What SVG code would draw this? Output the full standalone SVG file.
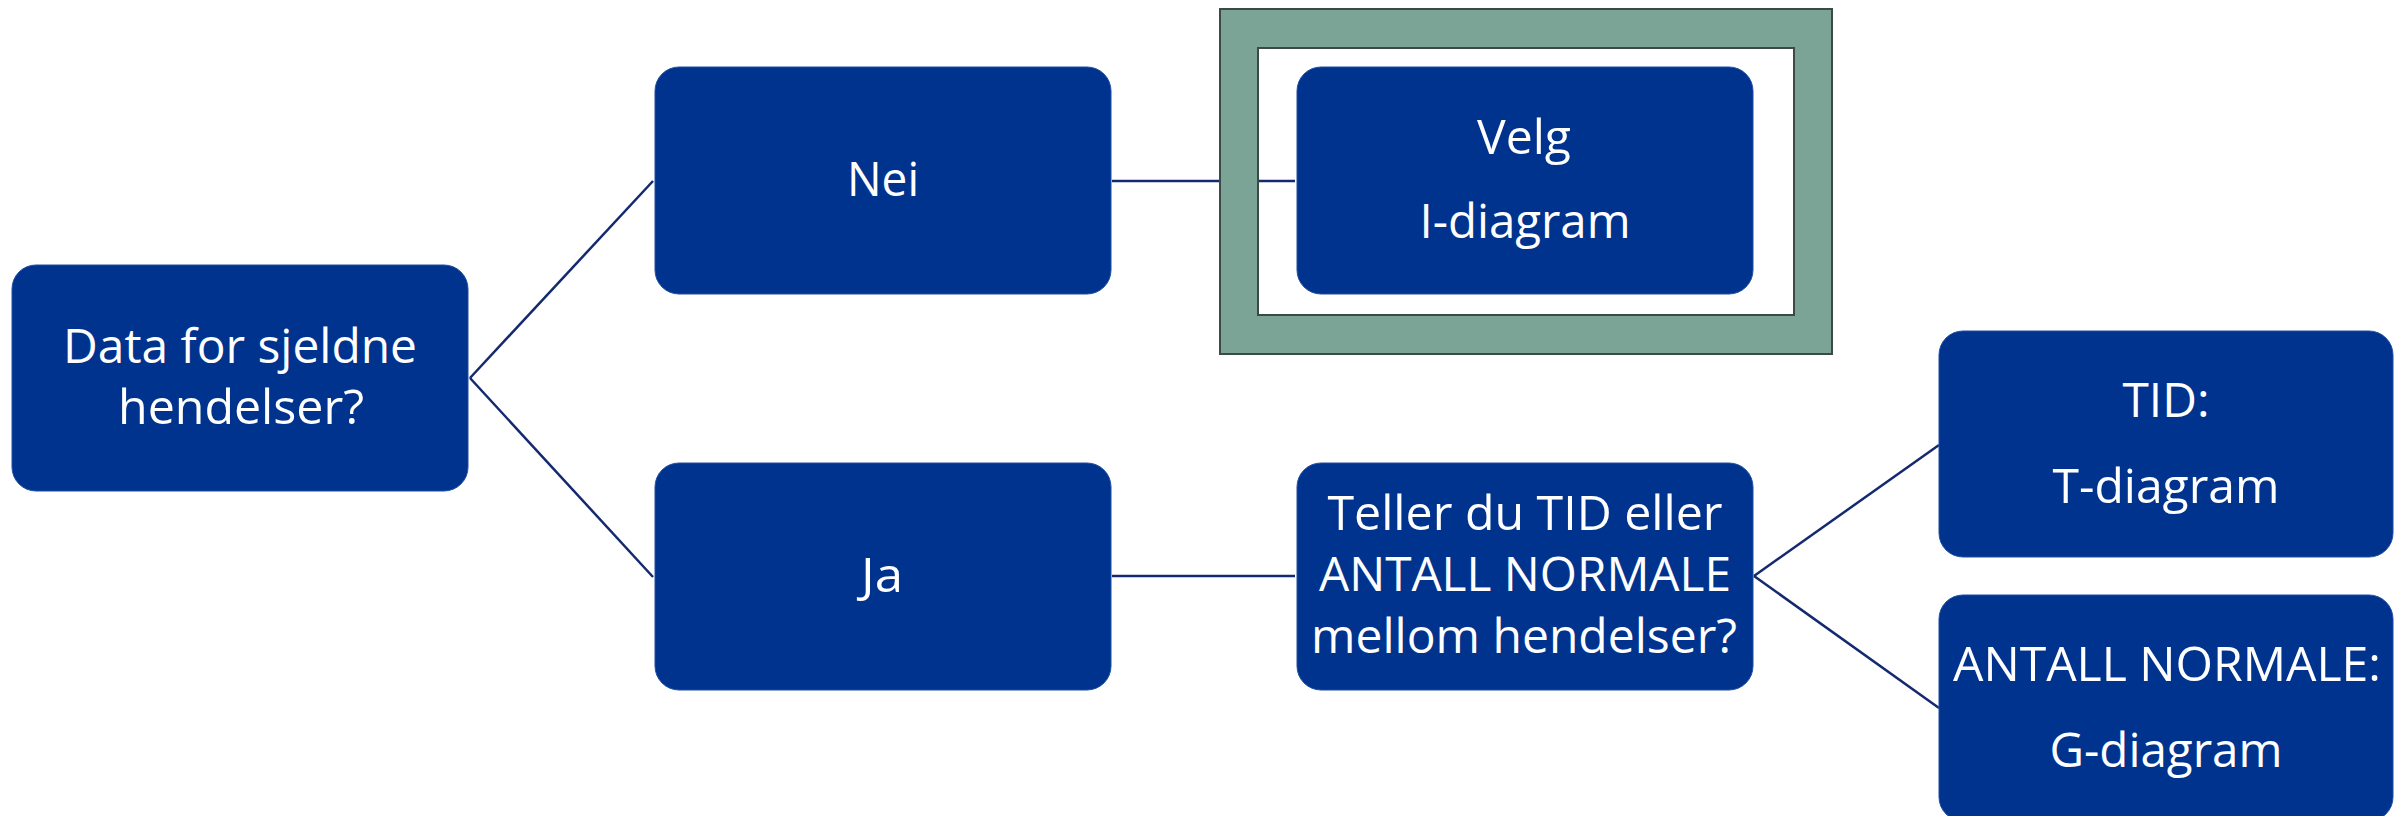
<svg xmlns="http://www.w3.org/2000/svg" width="2394" height="816" viewBox="0 0 2394 816">
<style>
.node rect{fill:#00338E;stroke:#1F4EA3;stroke-width:1;}
.node text{fill:#FFFFFF;font-family:"Open Sans","Noto Sans","Liberation Sans",sans-serif;font-size:48px;text-anchor:middle;}
.conn line{stroke:#14296F;stroke-width:2.5;fill:none;}
.frame{fill:#7BA396;stroke:#3C4A44;stroke-width:2;fill-rule:evenodd;}
</style>
<rect x="0" y="0" width="2394" height="816" fill="#FFFFFF"/>
<g id="connectors" class="conn">
<line x1="470" y1="378" x2="653" y2="181"/>
<line x1="470" y1="378" x2="653" y2="577"/>
<line x1="1112" y1="181" x2="1295" y2="181"/>
<line x1="1112" y1="576" x2="1295" y2="576"/>
<line x1="1754" y1="576" x2="1939" y2="445"/>
<line x1="1754" y1="576" x2="1939" y2="708"/>
</g>
<g id="frame">
<path class="frame" d="M1220 9 H1832 V354 H1220 Z M1258 48 V315 H1794 V48 Z"/>
</g>
<g id="n-data" class="node">
<rect x="12" y="265" width="456" height="226" rx="24"/>
<text x="240" y="363" textLength="354" lengthAdjust="spacingAndGlyphs">Data for sjeldne</text>
<text x="241" y="424" textLength="246" lengthAdjust="spacingAndGlyphs">hendelser?</text>
</g>
<g id="n-nei" class="node">
<rect x="655" y="67" width="456" height="227" rx="24"/>
<text x="883" y="196" textLength="72" lengthAdjust="spacingAndGlyphs">Nei</text>
</g>
<g id="n-ja" class="node">
<rect x="655" y="463" width="456" height="227" rx="24"/>
<text x="882" y="592" textLength="42" lengthAdjust="spacingAndGlyphs">Ja</text>
</g>
<g id="n-velg" class="node">
<rect x="1297" y="67" width="456" height="227" rx="24"/>
<text x="1524" y="154" textLength="94" lengthAdjust="spacingAndGlyphs">Velg</text>
<text x="1525" y="238" textLength="211" lengthAdjust="spacingAndGlyphs">I-diagram</text>
</g>
<g id="n-teller" class="node">
<rect x="1297" y="463" width="456" height="227" rx="24"/>
<text x="1525" y="530" textLength="395" lengthAdjust="spacingAndGlyphs">Teller du TID eller</text>
<text x="1525" y="591" textLength="412" lengthAdjust="spacingAndGlyphs">ANTALL NORMALE</text>
<text x="1524" y="653" textLength="426" lengthAdjust="spacingAndGlyphs">mellom hendelser?</text>
</g>
<g id="n-tid" class="node">
<rect x="1939" y="331" width="454" height="226" rx="24"/>
<text x="2166" y="417" textLength="87" lengthAdjust="spacingAndGlyphs">TID:</text>
<text x="2166" y="503" textLength="227" lengthAdjust="spacingAndGlyphs">T-diagram</text>
</g>
<g id="n-antall" class="node">
<rect x="1939" y="595" width="454" height="226" rx="24"/>
<text x="2167" y="681" textLength="428" lengthAdjust="spacingAndGlyphs">ANTALL NORMALE:</text>
<text x="2166" y="767" textLength="233" lengthAdjust="spacingAndGlyphs">G-diagram</text>
</g>
</svg>
